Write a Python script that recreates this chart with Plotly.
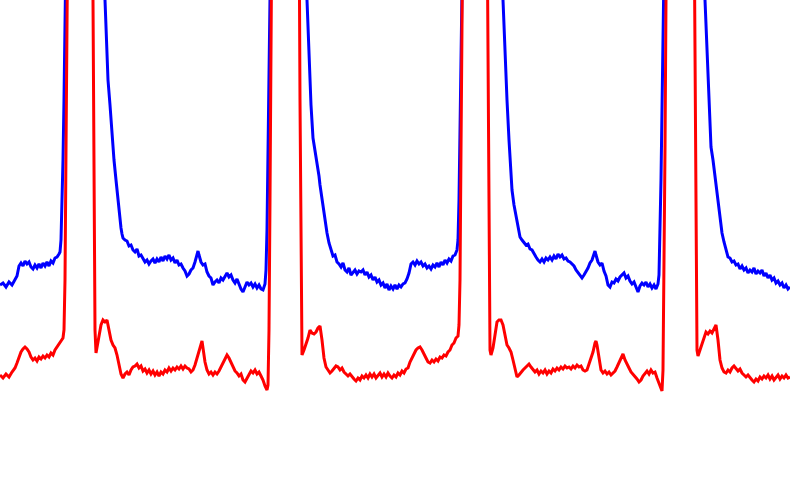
import plotly.graph_objects as go

# Readings: (x, screen level from top); values < 0 are off the top edge
blue_points = [
    (0,285),(3,283),(6,287),(9,282),(12,285),(15,280),(17,276),(19,266),(21,263),(23,266),(25,261),
    (27,264),(29,262),(31,267),(33,269),(35,265),(37,268),(39,264),(41,268),(43,263),(45,266),(47,262),
    (49,266),(51,261),(53,263),(55,258),(57,257),(59,254),(60,252),(61,240),(62,210),(63,160),(64,100),
    (65,30),(66,-50),(85,-150),
    (103,-50),(105,0),(107,50),(108,80),(110,105),(112,135),(114,160),(116,180),(117,190),(118,200),
    (119,212),(120,220),(121,228),(122,234),(123,238),(125,240),(127,241),(129,246),(131,245),(133,250),
    (135,252),(137,249),(139,256),(141,255),(143,259),(145,262),(147,260),(149,264),(151,261),(153,259),
    (155,263),(157,259),(159,262),(161,257),(163,261),(165,256),(167,259),(169,255),(171,260),(173,258),
    (175,263),(177,260),(179,265),(181,264),(183,268),(185,271),(187,276),(189,274),(191,270),(193,268),
    (195,262),(197,256),(198,251),(199,255),(201,262),(203,265),(205,264),(207,272),(209,276),(211,278),
    (213,285),(215,282),(217,280),(219,283),(221,278),(223,280),(225,276),(227,273),(229,277),(231,275),
    (233,280),(235,283),(237,279),(239,285),(241,289),(243,292),(245,286),(247,282),(249,285),(251,283),
    (253,287),(255,284),(257,288),(259,285),(261,289),(263,290),(265,284),(266,270),(267,230),(268,160),
    (269,80),(270,0),(271,-80),(290,-150),
    (305,-50),(307,0),(309,60),(311,105),(313,138),(315,150),(317,163),(319,176),(320,185),
    (322,200),(324,215),(326,227),(327,233),(329,243),(331,250),(333,256),(335,255),(337,262),(339,264),
    (341,267),(343,263),(345,270),(347,272),(349,268),(351,275),(353,273),(355,270),(357,274),(359,271),
    (361,272),(363,270),(365,275),(367,272),(369,277),(371,275),(373,280),(375,277),(377,282),(379,280),
    (381,285),(383,283),(385,288),(387,284),(389,290),(391,286),(393,289),(395,285),(397,289),(399,285),
    (401,287),(403,284),(405,283),(407,279),(409,273),(411,264),(413,262),(415,265),(417,261),(419,264),
    (421,262),(423,266),(425,264),(427,268),(429,266),(431,269),(433,265),(435,267),(437,263),(439,267),
    (441,262),(443,265),(445,260),(447,263),(449,259),(451,261),(453,256),(455,255),(457,250),(458,240),
    (459,200),(460,140),(461,70),(462,0),(463,-80),(480,-150),
    (501,-50),(503,0),(505,60),(507,100),(509,140),(511,175),(512,190),(514,205),(516,215),(518,226),
    (520,237),(522,240),(524,242),(526,245),(528,244),(530,249),(532,250),(534,254),(536,257),(538,260),
    (540,262),(542,259),(544,262),(546,258),(548,260),(550,257),(552,260),(554,256),(556,259),(558,254),
    (560,257),(562,255),(564,259),(566,258),(568,261),(570,262),(572,264),(574,266),(576,270),(578,273),
    (580,276),(582,278),(584,275),(586,272),(588,268),(590,263),(592,260),(594,254),(595,251),(596,255),
    (598,262),(600,265),(602,263),(604,271),(606,276),(608,285),(610,287),(612,282),(614,283),(616,279),
    (618,281),(620,277),(622,275),(624,273),(626,278),(628,276),(630,281),(632,284),(634,282),(636,288),
    (638,292),(640,286),(642,283),(644,285),(646,282),(648,287),(650,284),(652,288),(654,285),(656,289),
    (658,284),(659,275),(660,240),(661,180),(662,110),(663,40),(664,-30),(665,-100),(685,-150),
    (703,-50),(705,0),(707,50),(709,100),(710,130),(711,147),(713,160),(715,175),(717,190),(719,205),
    (721,222),(722,233),(724,242),(726,250),(728,257),(730,258),(732,262),(734,261),(736,265),(738,264),
    (740,269),(742,266),(744,270),(746,268),(748,273),(750,270),(752,272),(754,268),(756,274),(758,271),
    (760,273),(762,270),(764,276),(766,273),(768,278),(770,275),(772,280),(774,278),(776,283),(778,281),
    (780,285),(782,283),(784,288),(786,285),(788,289),(790,287),
]

red_points = [
    (0,375),(3,378),(6,374),(9,377),(12,372),(15,368),(17,363),(19,357),(21,352),(23,349),(25,347),
    (27,349),(29,352),(31,357),(33,360),(35,358),(37,361),(39,357),(41,359),(43,356),(45,358),(47,355),
    (49,357),(51,353),(53,355),(55,350),(57,347),(59,344),(61,341),(63,338),(64,330),(65,280),(66,150),
    (67,0),(68,-100),(80,-150),(92,-100),(93,0),(94,200),(95,330),(96,353),(97,348),(99,338),(101,325),
    (103,320),(105,322),(107,320),(109,330),(111,340),(113,345),(115,348),(117,355),(119,365),(121,374),
    (123,378),(125,374),(127,372),(129,375),(131,370),(133,367),(135,366),(137,364),(139,368),(141,366),
    (143,371),(145,369),(147,373),(149,370),(151,374),(153,371),(155,375),(157,372),(159,376),(161,372),
    (163,374),(165,370),(167,372),(169,368),(171,371),(173,368),(175,370),(177,367),(179,369),(181,366),
    (183,369),(185,366),(187,368),(189,369),(191,372),(193,370),(195,365),(197,358),(199,350),(201,343),
    (202,341),(203,348),(205,362),(207,370),(209,374),(211,372),(213,375),(215,372),(217,374),(219,371),
    (221,367),(223,363),(225,360),(227,355),(229,358),(231,363),(233,367),(235,371),(237,373),(239,376),
    (241,374),(243,380),(245,382),(247,378),(249,374),(251,371),(253,373),(255,370),(257,374),(259,372),
    (261,376),(263,380),(265,386),(267,390),(268,385),(269,330),(270,200),(271,50),(272,-100),(285,-150),
    (299,-100),(300,100),(301,300),(302,355),(304,350),(306,345),(308,338),(310,330),(312,333),(314,334),
    (316,332),(318,328),(320,326),(322,340),(324,358),(326,367),(328,370),(330,373),(332,371),(334,369),
    (336,366),(338,367),(340,370),(342,368),(344,372),(346,374),(348,376),(350,374),(352,377),(354,379),
    (356,381),(358,378),(360,380),(362,376),(364,378),(366,375),(368,378),(370,374),(372,377),(374,374),
    (376,378),(378,375),(380,373),(382,377),(384,374),(386,377),(388,373),(390,376),(392,378),(394,375),
    (396,377),(398,373),(400,375),(402,371),(404,373),(406,369),(408,368),(410,362),(412,358),(414,354),
    (416,350),(418,348),(420,347),(422,350),(424,355),(426,358),(428,362),(430,363),(432,360),(434,362),
    (436,359),(438,361),(440,357),(442,358),(444,355),(446,356),(448,352),(450,350),(452,345),(454,343),
    (456,338),(458,336),(459,325),(460,280),(461,150),(462,20),(463,-100),(475,-150),(487,-100),(488,50),
    (489,250),(490,350),(491,355),(493,348),(495,335),(497,322),(499,320),(501,320),(503,325),(505,335),
    (507,345),(509,348),(511,352),(513,360),(515,370),(517,377),(519,375),(521,372),(523,370),(525,368),
    (527,366),(529,364),(531,367),(533,369),(535,372),(537,370),(539,374),(541,371),(543,373),(545,370),
    (547,374),(549,371),(551,373),(553,369),(555,371),(557,368),(559,370),(561,367),(563,369),(565,366),
    (567,368),(569,367),(571,369),(573,366),(575,368),(577,365),(579,367),(581,366),(583,370),(585,371),
    (587,370),(589,364),(591,358),(593,352),(595,343),(596,341),(597,345),(599,360),(601,370),(603,373),
    (605,371),(607,374),(609,372),(611,375),(613,373),(615,371),(617,367),(619,363),(621,358),(623,354),
    (625,360),(627,365),(629,368),(631,372),(633,374),(635,376),(637,379),(639,382),(641,380),(643,376),
    (645,374),(647,371),(649,374),(651,370),(653,373),(655,372),(657,378),(659,383),(661,390),(662,391),
    (663,370),(664,280),(665,150),(666,0),(667,-100),(680,-150),(694,-100),(695,50),(696,250),(697,350),
    (698,356),(700,350),(702,345),(704,337),(706,332),(708,334),(710,331),(712,333),(714,328),(716,325),
    (718,340),(720,360),(722,368),(724,372),(726,373),(728,370),(730,372),(732,368),(734,366),(736,368),
    (738,371),(740,369),(742,373),(744,375),(746,377),(748,375),(750,378),(752,380),(754,382),(756,379),
    (758,381),(760,377),(762,379),(764,376),(766,378),(768,375),(770,379),(772,376),(774,380),(776,377),
    (778,375),(780,379),(782,376),(784,378),(786,375),(788,378),(790,377),
]

bx, by = zip(*blue_points)
rx, ry = zip(*red_points)

fig = go.Figure()
fig.add_trace(go.Scatter(x=bx, y=by, mode="lines", line=dict(color="#0000ff", width=3), hoverinfo="skip"))
fig.add_trace(go.Scatter(x=rx, y=ry, mode="lines", line=dict(color="#ff0000", width=3), hoverinfo="skip"))

fig.update_layout(
    width=790, height=488,
    margin=dict(l=0, r=0, t=0, b=0),
    paper_bgcolor="white", plot_bgcolor="white",
    showlegend=False,
    xaxis=dict(range=[0, 790], visible=False, fixedrange=True),
    yaxis=dict(range=[488, 0], visible=False, fixedrange=True),
)

fig.write_html(
    "out.html",
    config={"displayModeBar": False},
    post_script="document.body.style.margin='0';document.body.style.overflow='hidden';",
)
